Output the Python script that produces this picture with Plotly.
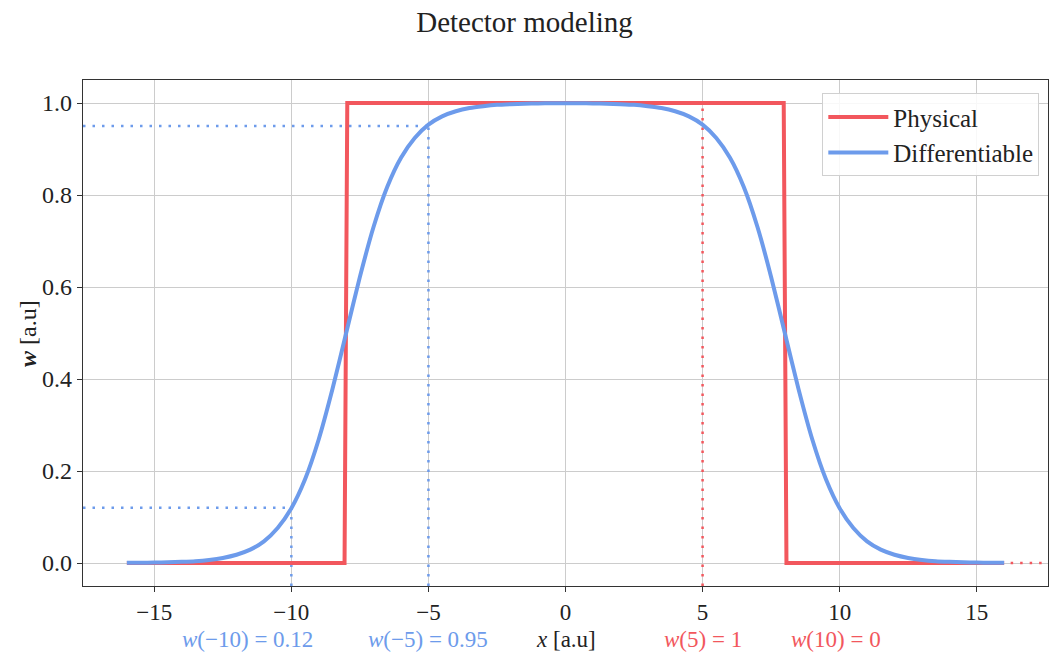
import plotly.graph_objects as go

# ---- data ----
phys_x = [-16, -8.06, -7.96, 7.96, 8.06, 16]
phys_y = [0, 0, 1, 1, 0, 0]

diff_x = [-16, -15.5, -15, -14.5, -14, -13.5, -13, -12.5, -12, -11.5, -11, -10.5, -10,
          -9.5, -9, -8.5, -8, -7.5, -7, -6.5, -6, -5.5, -5, -4.5, -4, -3.5, -3, -2.5,
          -2, -1.5, -1, -0.5, 0, 0.5, 1, 1.5, 2, 2.5, 3, 3.5, 4, 4.5, 5, 5.5, 6, 6.5,
          7, 7.5, 8, 8.5, 9, 9.5, 10, 10.5, 11, 11.5, 12, 12.5, 13, 13.5, 14, 14.5,
          15, 15.5, 16]
half = [0.0003, 0.0006, 0.0009, 0.0015, 0.0025, 0.004, 0.0067, 0.011, 0.018, 0.029,
        0.047, 0.076, 0.119, 0.182, 0.269, 0.378, 0.5, 0.622, 0.731, 0.818, 0.881,
        0.924, 0.953, 0.971, 0.982, 0.989, 0.993, 0.996, 0.9975, 0.9985, 0.999,
        0.9994, 0.9997]
diff_y = half + half[-2::-1]

# marked points
blue_pts_x = [-10, -5]
blue_pts_y = [0.12, 0.95]
red_vline_x = 5
red_vline_y = 1
red_hline_x = 10
red_hline_y = 0

ann_labels = ["<i>w</i>(−10) = 0.12", "<i>w</i>(−5) = 0.95", "<i>x</i> [a.u]",
              "<i>w</i>(5) = 1", "<i>w</i>(10) = 0"]
ann_x = [-11.6, -5, 0, 5, 9.85]

x_ticks = [-15, -10, -5, 0, 5, 10, 15]
x_ticktext = ["−15", "−10", "−5", "0", "5", "10", "15"]
y_ticks = [0.0, 0.2, 0.4, 0.6, 0.8, 1.0]
y_ticktext = ["0.0", "0.2", "0.4", "0.6", "0.8", "1.0"]

X_RANGE = [-17.6, 17.6]
Y_RANGE = [-0.05, 1.05]

RED = "#F2575D"
BLUE = "#6D9BEB"
FONT = "'Liberation Serif', 'DejaVu Serif', serif"
TXT = "#222222"
DOT = "2.5px,7px"

fig = go.Figure()

# dotted guide lines
for px, py in zip(blue_pts_x, blue_pts_y):
    fig.add_trace(go.Scatter(x=[X_RANGE[0], px], y=[py, py], mode="lines",
                             line=dict(color=BLUE, width=2.5, dash=DOT),
                             showlegend=False, hoverinfo="skip"))
    fig.add_trace(go.Scatter(x=[px, px], y=[Y_RANGE[0], py], mode="lines",
                             line=dict(color=BLUE, width=2.5, dash=DOT),
                             showlegend=False, hoverinfo="skip"))
fig.add_trace(go.Scatter(x=[red_vline_x, red_vline_x], y=[Y_RANGE[0], red_vline_y],
                         mode="lines", line=dict(color=RED, width=2.5, dash=DOT),
                         showlegend=False, hoverinfo="skip"))
fig.add_trace(go.Scatter(x=[red_hline_x, X_RANGE[1]], y=[red_hline_y, red_hline_y],
                         mode="lines", line=dict(color=RED, width=2.5, dash=DOT),
                         showlegend=False, hoverinfo="skip"))

fig.add_trace(go.Scatter(x=phys_x, y=phys_y, mode="lines", name="Physical",
                         line=dict(color=RED, width=4)))
fig.add_trace(go.Scatter(x=diff_x, y=diff_y, mode="lines", name="Differentiable",
                         line=dict(color=BLUE, width=4, shape="spline", smoothing=0.6)))

annotations = []
for lbl, ax in zip(ann_labels, ann_x):
    color = TXT
    if "−" in lbl and "w" in lbl:
        color = BLUE
    elif "w" in lbl:
        color = RED
    annotations.append(dict(x=ax, xref="x", y=-0.106, yref="paper", text=lbl,
                            showarrow=False, xanchor="center", yanchor="middle",
                            font=dict(family=FONT, size=23, color=color)))
annotations.append(dict(x=-0.057, xref="paper", y=0.5, yref="paper",
                        text="<i><b>w</b></i> [a.u]", textangle=-90, showarrow=False,
                        xanchor="center", yanchor="middle",
                        font=dict(family=FONT, size=24, color=TXT)))

fig.update_layout(
    width=1049, height=652,
    margin=dict(l=83, r=1, t=80, b=66),
    paper_bgcolor="white", plot_bgcolor="white",
    title=dict(text="Detector modeling", x=0.5, xanchor="center", y=0.967, yanchor="middle",
               font=dict(family=FONT, size=29, color=TXT)),
    font=dict(family=FONT, size=22, color=TXT),
    legend=dict(x=0.991, y=0.974, xanchor="right", yanchor="top",
                bgcolor="rgba(255,255,255,0.85)", bordercolor="#d0d0d0", borderwidth=1,
                font=dict(family=FONT, size=25, color=TXT), tracegroupgap=2,
                itemwidth=60),
    annotations=annotations,
    showlegend=True,
)
fig.update_xaxes(range=X_RANGE, tickvals=x_ticks, ticktext=x_ticktext,
                 showgrid=True, gridcolor="#cccccc", gridwidth=1, zeroline=False,
                 showline=True, linecolor="#333333", linewidth=1.2, mirror=True,
                 ticks="outside", ticklen=5, tickcolor="#333333",
                 tickfont=dict(family=FONT, size=23, color=TXT))
fig.update_yaxes(range=Y_RANGE, tickvals=y_ticks, ticktext=y_ticktext,
                 showgrid=True, gridcolor="#cccccc", gridwidth=1, zeroline=False,
                 showline=True, linecolor="#333333", linewidth=1.2, mirror=True,
                 ticks="outside", ticklen=5, tickcolor="#333333",
                 tickfont=dict(family=FONT, size=24, color=TXT))

fig.write_html("out.html")
